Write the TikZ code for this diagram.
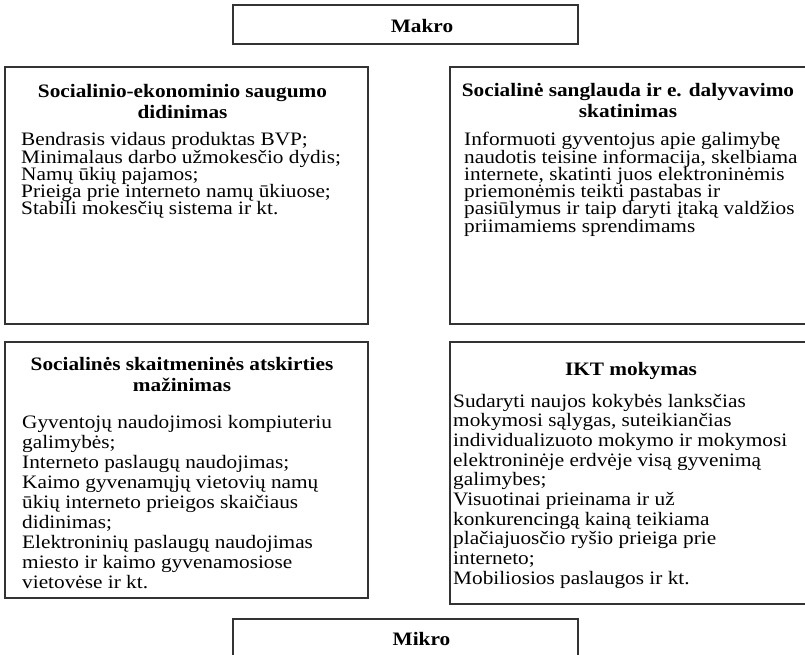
\documentclass[tikz,border=0pt]{standalone}
\usepackage{fontspec}
\setmainfont{Liberation Serif}[FakeStretch=1.12]
\begin{document}
\begin{tikzpicture}[x=1pt,y=-1pt,
  frame/.style={draw=black!80, line width=1.2pt, rectangle, inner sep=0pt},
  head/.style={font=\bfseries\fontsize{19}{21}\selectfont, anchor=base, inner sep=0pt, text=black},
  body/.style={font=\fontsize{19}{17.5}\selectfont, anchor=base west, inner sep=0pt, text=black}]
\useasboundingbox (0,0) rectangle (805,655);
\clip (0,0) rectangle (805,655);

% frames
\node[frame, minimum width=345pt, minimum height=39pt]  (makro) at (405.5,24.5) {};
\node[frame, minimum width=363pt, minimum height=257pt] (tl) at (186.5,195.5) {};
\node[frame, minimum width=357pt, minimum height=257pt] (tr) at (628.5,195.5) {};
\node[frame, minimum width=363pt, minimum height=256pt] (bl) at (186.5,470) {};
\node[frame, minimum width=357pt, minimum height=262pt] (br) at (628.5,473) {};
\node[frame, minimum width=345pt, minimum height=51pt]  (mikro) at (405.5,644.5) {};

% level titles
\node[head] (makro-t) at (422,33) {Makro};
\node[head] (mikro-t) at (421.5,645) {Mikro};

% headings
\node[head] (tl-h1) at (182.5,98)  {Socialinio-ekonominio saugumo};
\node[head] (tl-h2) at (182.5,119) {didinimas};
\node[head] (tr-h1) at (628,97)    {Socialinė sanglauda ir e. dalyvavimo};
\node[head] (tr-h2) at (628,118)   {skatinimas};
\node[head] (bl-h1) at (182,370)   {Socialinės skaitmeninės atskirties};
\node[head] (bl-h2) at (182,391)   {mažinimas};
\node[head] (br-h1) at (631,375)   {IKT mokymas};

% body text
\foreach \t [count=\i] in {{Bendrasis vidaus produktas BVP;},
    {Minimalaus darbo užmokesčio dydis;},{Namų ūkių pajamos;},
    {Prieiga prie interneto namų ūkiuose;},{Stabili mokesčių sistema ir kt.}}
  \node[body] (tl-\i) at (21,{146+17.2*(\i-1)}) {\t};

\foreach \t [count=\i] in {{Informuoti gyventojus apie galimybę},
    {naudotis teisine informacija, skelbiama},
    {internete, skatinti juos elektroninėmis},
    {priemonėmis teikti pastabas ir},
    {pasiūlymus ir taip daryti įtaką valdžios},
    {priimamiems sprendimams}}
  \node[body] (tr-\i) at (464,{146+17.2*(\i-1)}) {\t};

\foreach \t [count=\i] in {{Gyventojų naudojimosi kompiuteriu},{galimybės;},
    {Interneto paslaugų naudojimas;},{Kaimo gyvenamųjų vietovių namų},
    {ūkių interneto prieigos skaičiaus},{didinimas;},
    {Elektroninių paslaugų naudojimas},{miesto ir kaimo gyvenamosiose},
    {vietovėse ir kt.}}
  \node[body] (bl-\i) at (22,{428+20*(\i-1)}) {\t};

\foreach \t [count=\i] in {{Sudaryti naujos kokybės lanksčias},
    {mokymosi sąlygas, suteikiančias},
    {individualizuoto mokymo ir mokymosi},
    {elektroninėje erdvėje visą gyvenimą},{galimybes;},
    {Visuotinai prieinama ir už},{konkurencingą kainą teikiama},
    {plačiajuosčio ryšio prieiga prie},{interneto;},
    {Mobiliosios paslaugos ir kt.}}
  \node[body] (br-\i) at (453,{407+19.7*(\i-1)}) {\t};
\end{tikzpicture}
\end{document}
